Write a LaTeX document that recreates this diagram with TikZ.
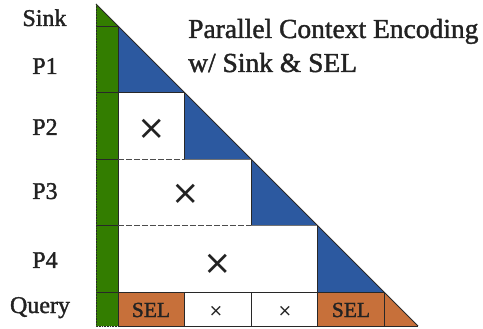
\documentclass[tikz,border=0pt]{standalone}
\usepackage{fontspec}
\setmainfont{Liberation Serif}[FakeBold=1.5]
\newfontfamily\symfont{DejaVu Sans}
\definecolor{gr}{RGB}{51,125,0}
\definecolor{bl}{RGB}{44,89,160}
\definecolor{orng}{RGB}{199,112,58}
\definecolor{ink}{RGB}{34,34,34}
\definecolor{edge}{RGB}{40,40,40}
\begin{document}
\begin{tikzpicture}[x=1pt,y=-1pt,
  lbl/.style={font=\fontsize{24}{24}\selectfont, text=ink, anchor=base, inner sep=0pt},
  ttl/.style={font=\fontsize{27.5}{27.5}\selectfont, text=ink, anchor=base west, inner sep=0pt},
  sel/.style={font=\fontsize{21.5}{21.5}\selectfont, text=ink, anchor=base, inner sep=0pt},
  bigx/.style={font=\symfont\fontsize{34}{34}\selectfont, text=ink, anchor=center, inner sep=0pt},
  smallx/.style={font=\symfont\fontsize{17}{17}\selectfont, text=ink, anchor=center, inner sep=0pt},
  solidline/.style={draw=edge, line width=0.9pt},
  grayline/.style={draw=black!55, line width=0.9pt},
  dashline/.style={draw=black!70, line width=0.9pt, dash pattern=on 6pt off 2pt},
  dotline/.style={draw=edge, line width=0.9pt, dash pattern=on 0.8pt off 0.8pt}]
\useasboundingbox (0,0) rectangle (483,329);
% fills
\fill[gr] (96,4) -- (118,26) -- (118,326) -- (96,326) -- cycle;
\fill[bl] (118,26) -- (184.5,92.5) -- (118,92.5) -- cycle;
\fill[bl] (184.5,92.5) -- (251,159) -- (184.5,159) -- cycle;
\fill[bl] (251,159) -- (317.5,225.5) -- (251,225.5) -- cycle;
\fill[bl] (317.5,225.5) -- (384,292) -- (317.5,292) -- cycle;
\fill[orng] (118,292) rectangle (184.5,326);
\fill[orng] (317.5,292) rectangle (384,326);
\fill[orng] (384,292) -- (418,326) -- (384,326) -- cycle;
% lines
\draw[dotline] (96,4) -- (96,326) -- (118,326);
\draw[solidline] (96,4) -- (418,326);
\draw[solidline] (118,26) -- (118,326);
\foreach \yy in {26,92.5,159,225.5,292} \draw[solidline] (96,\yy) -- (118,\yy);
\draw[solidline] (118,92.5) -- (184.5,92.5) -- (184.5,159);
\draw[grayline] (184.5,159) -- (251,159);
\draw[solidline] (251,159) -- (251,225.5);
\draw[grayline] (251,225.5) -- (317.5,225.5);
\draw[solidline] (317.5,225.5) -- (317.5,292);
\draw[dashline] (118,159) -- (184.5,159);
\draw[dashline] (118,225.5) -- (251,225.5);
\draw[solidline] (118,292) -- (384,292);
\draw[solidline] (118,326) -- (418,326);
\foreach \xx in {184.5,251,317.5,384} \draw[solidline] (\xx,292) -- (\xx,326);
% labels
\node[lbl] (lsink) at (44.5,26) {Sink};
\node[lbl] (lp1) at (45,74) {P1};
\node[lbl] (lp2) at (45,135) {P2};
\node[lbl] (lp3) at (45,199) {P3};
\node[lbl] (lp4) at (45,268) {P4};
\node[lbl] (lq) at (40,313) {Query};
% title
\node[ttl] (t1) at (188,38) {Parallel Context Encoding};
\node[ttl] (t2) at (188,72) {w/ Sink \& SEL};
% crosses
\node[bigx] (x2) at (152,129) {×};
\node[bigx] (x3) at (186,194) {×};
\node[bigx] (x4) at (218,264) {×};
\node[smallx] (q2) at (216,311) {×};
\node[smallx] (q3) at (285,311) {×};
% SEL
\node[sel] (s1) at (151,317) {SEL};
\node[sel] (s2) at (351,317) {SEL};
\end{tikzpicture}
\end{document}
